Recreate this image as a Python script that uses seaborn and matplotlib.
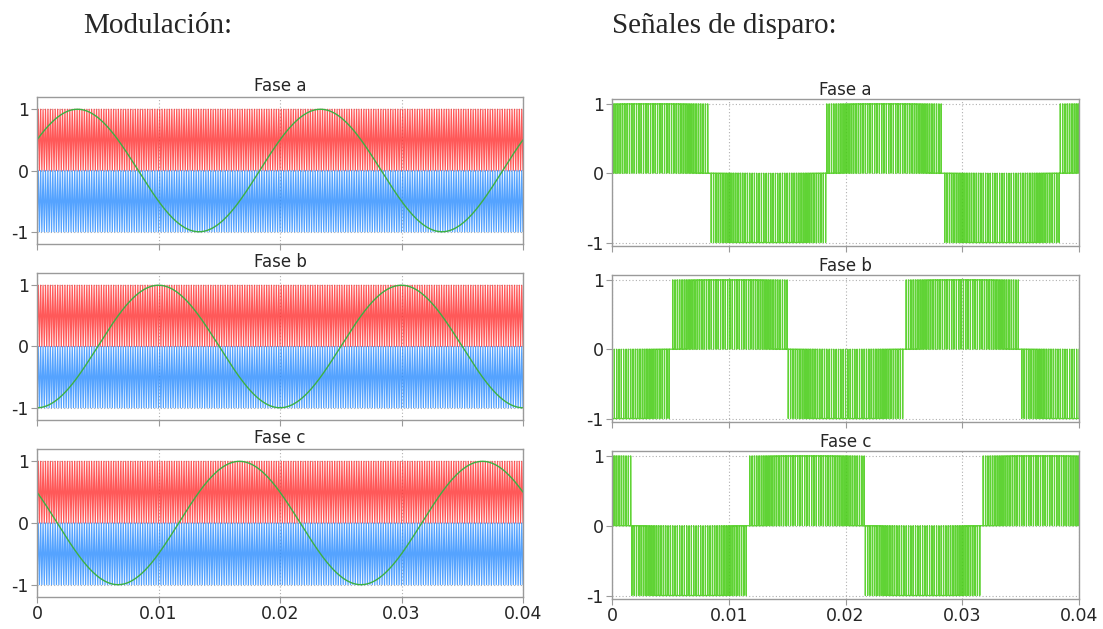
import numpy as np
import pandas as pd
import matplotlib
matplotlib.use("Agg")
import matplotlib.pyplot as plt
import seaborn as sns

# ---- data ----
PHASE_LABELS = ["Fase a", "Fase b", "Fase c"]
PHASE_DEG = [30, -90, 150]          # phase of each reference sine at t = 0
MOD_FREQ_HZ = 50                    # reference sine frequency (period 0.02 s)
MOD_AMPLITUDE = 1.0
CARRIER_FREQ_HZ = 5000              # triangular carrier frequency
T_END = 0.04
X_TICKS = [0, 0.01, 0.02, 0.03, 0.04]
X_TICK_LABELS = ["0", "0.01", "0.02", "0.03", "0.04"]
Y_TICKS = [-1, 0, 1]
Y_TICK_LABELS = ["-1", "0", "1"]
HEADERS = ["Modulación:", "Señales de disparo:"]

sns.set_theme(style="white")
plt.rcParams["font.family"] = ["DejaVu Sans"]
plt.rcParams["axes.unicode_minus"] = False

RED = "#ff3030"
BLUE = "#2a8cff"
SINE_COL = "#3cb043"
GATE_COL = "#44cc11"
SPINE = "#9a9a9a"

fig = plt.figure(figsize=(11.03, 6.29), dpi=100)

# time bases
t_fine = np.linspace(0, T_END, 40001)
n_half = int(round(2 * CARRIER_FREQ_HZ * T_END))
t_vert = np.arange(n_half + 1) / (2 * CARRIER_FREQ_HZ)
v_up = np.where(np.arange(n_half + 1) % 2 == 0, 0.0, 1.0)
v_dn = v_up - 1.0
carrier_fine = np.interp(t_fine, t_vert, v_up)

left_x, left_w = 37 / 1103, 486 / 1103
right_x, right_w = 612 / 1103, 467 / 1103
rows_left = [(97, 244), (273, 420), (449, 597)]
rows_right = [(99, 246), (275, 422), (451, 599)]


def style_axes(ax, ylim):
    ax.set_xlim(0, T_END)
    ax.set_ylim(*ylim)
    ax.set_xticks(X_TICKS)
    ax.set_yticks(Y_TICKS)
    ax.set_yticklabels(Y_TICK_LABELS, fontsize=12.5)
    ax.grid(True, linestyle=(0, (1, 2)), color="#b0b0b0", linewidth=0.8)
    for s in ax.spines.values():
        s.set_color(SPINE)
        s.set_linewidth(1.0)
    ax.tick_params(axis="both", direction="out", length=4, width=0.8,
                   color=SPINE, labelsize=12.5, pad=2, bottom=True, left=True)
    ax.set_xlabel("")
    ax.set_ylabel("")


for i, (label, ph) in enumerate(zip(PHASE_LABELS, PHASE_DEG)):
    sine = MOD_AMPLITUDE * np.sin(2 * np.pi * MOD_FREQ_HZ * t_fine + np.deg2rad(ph))

    # ---- left: modulation ----
    top, bot = rows_left[i]
    axl = fig.add_axes([left_x, 1 - bot / 629, left_w, (bot - top) / 629])
    sns.lineplot(x=t_vert, y=v_up, ax=axl, color=RED, linewidth=0.9,
                 estimator=None, sort=False, alpha=0.8)
    sns.lineplot(x=t_vert, y=v_dn, ax=axl, color=BLUE, linewidth=0.9,
                 estimator=None, sort=False, alpha=0.8)
    sns.lineplot(x=t_fine[::10], y=sine[::10], ax=axl, color=SINE_COL,
                 linewidth=1.0, estimator=None, sort=False)
    style_axes(axl, (-1.2, 1.2))
    axl.set_title(label, fontsize=12, pad=4)
    if i < 2:
        axl.set_xticklabels([])
    else:
        axl.set_xticklabels(X_TICK_LABELS, fontsize=12.5)

    # ---- right: gate signals ----
    gate = (sine > carrier_fine).astype(float) - (sine < carrier_fine - 1.0).astype(float)
    top, bot = rows_right[i]
    axr = fig.add_axes([right_x, 1 - bot / 629, right_w, (bot - top) / 629])
    sns.lineplot(x=t_fine, y=gate, ax=axr, color=GATE_COL, linewidth=0.9,
                 estimator=None, sort=False, drawstyle="steps-post", alpha=0.85)
    style_axes(axr, (-1.05, 1.07))
    axr.set_title(label, fontsize=12, pad=3)
    if i < 2:
        axr.set_xticklabels([])
    else:
        axr.set_xticklabels(X_TICK_LABELS, fontsize=12.5)

fig.text(83 / 1103, 1 - 26 / 629, HEADERS[0], family="Liberation Serif",
         fontsize=21, va="center", ha="left")
fig.text(612 / 1103, 1 - 26 / 629, HEADERS[1], family="Liberation Serif",
         fontsize=21, va="center", ha="left")

fig.savefig("out.png", dpi=100)
